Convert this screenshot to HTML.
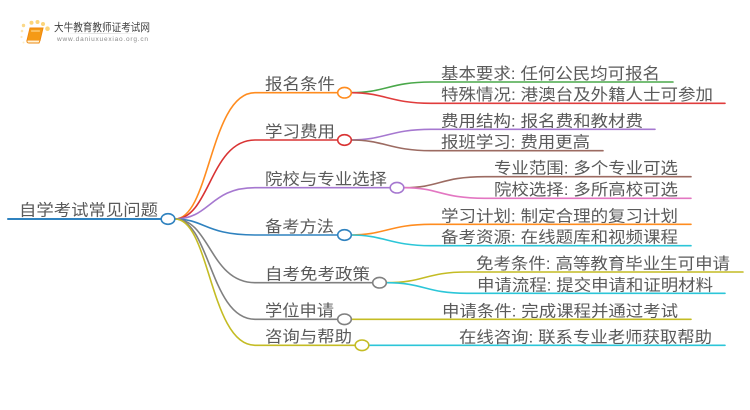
<!DOCTYPE html>
<html><head><meta charset="utf-8">
<style>
html,body{margin:0;padding:0;background:#fff}
svg{display:block;filter:blur(.3px)}
text{font-family:"Liberation Sans","Noto Sans CJK SC",sans-serif;fill:#5a5a5a;font-size:16px}
path,line{fill:none;stroke-width:1.6;stroke-linecap:round}
ellipse{fill:#fff;stroke-width:1.6}
</style></head><body>
<svg width="750" height="410" viewBox="0 0 750 410" xmlns="http://www.w3.org/2000/svg">
<defs><linearGradient id="g"><stop offset="0" stop-color="#fff"/><stop offset=".5" stop-color="#ddd"/><stop offset="1" stop-color="#fff"/></linearGradient></defs>
<!-- logo -->
<g>
<circle cx="23.500" cy="25.500" r="1.700" fill="#fbd98a"/>
<circle cx="31.500" cy="22.800" r="2" fill="#fcd57a"/><circle cx="37.500" cy="22" r="2" fill="#fcd57a"/>
<circle cx="43" cy="24" r="2" fill="#fcd57a"/><circle cx="47.500" cy="28.700" r="2.300" fill="#fcd57a"/>
<circle cx="22" cy="31" r="1.300" fill="#fde6b0"/><circle cx="21.500" cy="37" r="1.100" fill="#fdeac0"/><circle cx="23.500" cy="42.500" r="1" fill="#fdeec8"/>
<path d="M30 28H43L40 40.500H27Z" style="fill:#f59a16;stroke:#f0870c;stroke-width:1"/>
<path d="M27 40.500Q26.500 43 29 43H39L40 40.500" style="fill:#fff3d8;stroke:#ec8a10;stroke-width:1"/>
<path d="M31.500 31H39.500" style="stroke:#ffe2a4;stroke-width:1"/>
<text x="54" y="31" textLength="96" lengthAdjust="spacingAndGlyphs" style="font-size:10.700px;fill:#3f3f3f">大牛教育教师证考试网</text>
<text x="57" y="41" textLength="91" lengthAdjust="spacing" style="font-size:6.500px;fill:#8a8a8a">www.daniuxuexiao.org.cn</text>
<rect x="62" y="33" width="80" height="1" fill="url(#g)"/>
</g>

<!-- root -->
<line x1="8" y1="219" x2="162" y2="219" stroke="#2f82bf" style="stroke-width:2"/>

<!-- branches -->
<path d="M175 219C210 219 210 92.700 255 92.700H337" stroke="#ff8c1f"/>
<path d="M175 219C210 219 210 140 255 140H337" stroke="#d93333"/>
<path d="M175 219C210 219 210 187.700 255 187.700H390" stroke="#a678d0"/>
<path d="M175 219C205 219 205 235 255 235H337" stroke="#2f82bf"/>
<path d="M175 219C210 219 210 282.700 255 282.700H372" stroke="#808080"/>
<path d="M175 219C210 219 210 319.300 255 319.300H337" stroke="#808080"/>
<path d="M175 219C210 219 210 345.300 255 345.300H355" stroke="#c4bc24"/>

<!-- children -->
<path d="M351 92.700C385 92.700 390 82 431 82H673" stroke="#4aa84a"/>
<path d="M351 92.700C385 92.700 390 103.300 431 103.300H725" stroke="#e03c3c"/>
<path d="M351 140C385 140 390 129.300 431 129.300H655" stroke="#a678d0"/>
<path d="M351 140C385 140 390 150.700 431 150.700H603" stroke="#9c6b62"/>
<path d="M404 187.700C440 187.700 440 176.700 485 176.700H691" stroke="#9c6b62"/>
<path d="M404 187.700C440 187.700 440 198.300 485 198.300H691" stroke="#e377c2"/>
<path d="M351 235C385 235 390 224.300 431 224.300H691" stroke="#ff8c1f"/>
<path d="M351 235C385 235 390 245.700 431 245.700H691" stroke="#2cc6d8"/>
<path d="M386 282.700C425 282.700 425 272 467 272H743" stroke="#c4bc24"/>
<path d="M386 282.700C425 282.700 425 293.300 467 293.300H725" stroke="#2cc6d8"/>
<line x1="351" y1="319.300" x2="691" y2="319.300" stroke="#c4bc24"/>
<line x1="369" y1="345.300" x2="725" y2="345.300" stroke="#2cc6d8"/>

<!-- nodes -->
<ellipse cx="168" cy="219" rx="6.800" ry="5.300" stroke="#2f82bf"/>
<ellipse cx="344.500" cy="92.700" rx="6.800" ry="5.300" stroke="#ff8c1f"/>
<ellipse cx="344.500" cy="140" rx="6.800" ry="5.300" stroke="#d93333"/>
<ellipse cx="397" cy="187.700" rx="6.800" ry="5.300" stroke="#a678d0"/>
<ellipse cx="344.500" cy="235" rx="6.800" ry="5.300" stroke="#2f82bf"/>
<ellipse cx="379.500" cy="282.700" rx="6.800" ry="5.300" stroke="#808080"/>
<ellipse cx="344.500" cy="319.300" rx="6.800" ry="5.300" stroke="#808080"/>
<ellipse cx="362" cy="345.300" rx="6.800" ry="5.300" stroke="#c4bc24"/>

<!-- labels -->
<text x="19" y="215.500" textLength="139" lengthAdjust="spacingAndGlyphs">自学考试常见问题</text>
<text x="265" y="89.500" textLength="70" lengthAdjust="spacingAndGlyphs">报名条件</text>
<text x="265" y="137" textLength="70" lengthAdjust="spacingAndGlyphs">学习费用</text>
<text x="265" y="184.500" textLength="122" lengthAdjust="spacingAndGlyphs">院校与专业选择</text>
<text x="265" y="232" textLength="69" lengthAdjust="spacingAndGlyphs">备考方法</text>
<text x="265" y="279.500" textLength="105" lengthAdjust="spacingAndGlyphs">自考免考政策</text>
<text x="265" y="316" textLength="69" lengthAdjust="spacingAndGlyphs">学位申请</text>
<text x="265" y="342" textLength="87" lengthAdjust="spacingAndGlyphs">咨询与帮助</text>

<text x="441" y="79" textLength="219" lengthAdjust="spacingAndGlyphs">基本要求: 任何公民均可报名</text>
<text x="441" y="100" textLength="272" lengthAdjust="spacingAndGlyphs">特殊情况: 港澳台及外籍人士可参加</text>
<text x="441" y="126.500" textLength="202" lengthAdjust="spacingAndGlyphs">费用结构: 报名费和教材费</text>
<text x="441" y="147.500" textLength="149" lengthAdjust="spacingAndGlyphs">报班学习: 费用更高</text>
<text x="494" y="173.500" textLength="184" lengthAdjust="spacingAndGlyphs">专业范围: 多个专业可选</text>
<text x="494" y="195" textLength="184" lengthAdjust="spacingAndGlyphs">院校选择: 多所高校可选</text>
<text x="441" y="221.500" textLength="237" lengthAdjust="spacingAndGlyphs">学习计划: 制定合理的复习计划</text>
<text x="441" y="242.500" textLength="237" lengthAdjust="spacingAndGlyphs">备考资源: 在线题库和视频课程</text>
<text x="476" y="269" textLength="254" lengthAdjust="spacingAndGlyphs">免考条件: 高等教育毕业生可申请</text>
<text x="477" y="290.500" textLength="236" lengthAdjust="spacingAndGlyphs">申请流程: 提交申请和证明材料</text>
<text x="442" y="316.500" textLength="236" lengthAdjust="spacingAndGlyphs">申请条件: 完成课程并通过考试</text>
<text x="459" y="342.500" textLength="253" lengthAdjust="spacingAndGlyphs">在线咨询: 联系专业老师获取帮助</text>
</svg>
</body></html>
